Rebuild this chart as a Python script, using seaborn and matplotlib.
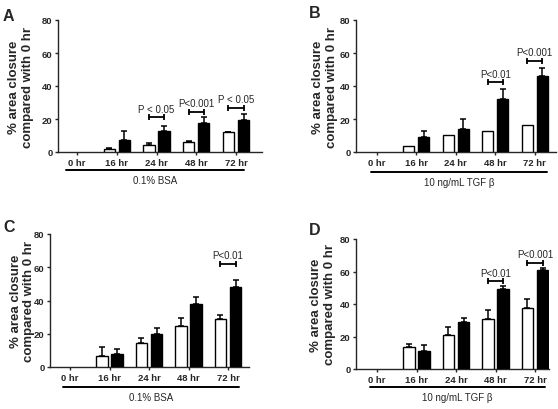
import matplotlib
matplotlib.use("Agg")
import matplotlib.pyplot as plt
import numpy as np
import pandas as pd
import seaborn as sns

sns.set_style("ticks")
plt.rcParams['font.family'] = ['Liberation Sans', 'DejaVu Sans']

########### DATA ###########
times = ['0 hr', '16 hr', '24 hr', '48 hr', '72 hr']
groups = ['open', 'filled']

# panel A - 0.1% BSA
a_open = [0, 1.8, 4.2, 5.9, 11.9]
a_open_err = [0, 0.4, 1.1, 0.6, 0.4]
a_filled = [0, 7.5, 12.7, 17.4, 19.4]
a_filled_err = [0, 5.4, 3.3, 3.6, 3.6]
a_sig = [(2, 21.0, 'P < 0.05'), (3, 24.4, 'P<0.001'), (4, 26.7, 'P < 0.05')]

# panel B - TGF beta
b_open = [0, 3.8, 10.1, 12.9, 16.2]
b_open_err = [0, 0, 0, 0, 0]
b_filled = [0, 9.1, 13.9, 32.1, 46.3]
b_filled_err = [0, 3.8, 6.1, 6.1, 4.8]
b_sig = [(3, 42.2, 'P<0.01'), (4, 55.3, 'P<0.001')]

# panel C - 0.1% BSA
c_open = [0, 6.8, 14.2, 24.9, 29.1]
c_open_err = [0, 5.4, 3.2, 4.4, 2.2]
c_filled = [0, 7.6, 19.6, 38.1, 48.1]
c_filled_err = [0, 3.2, 3.7, 3.8, 4.4]
c_sig = [(4, 62.0, 'P<0.01')]

# panel D - TGF beta
d_open = [0, 13.7, 21.1, 30.8, 37.3]
d_open_err = [0, 1.9, 4.7, 5.7, 5.8]
d_filled = [0, 11.3, 29.1, 49.0, 61.1]
d_filled_err = [0, 3.5, 2.1, 1.9, 1.1]
d_sig = [(3, 54.0, 'P<0.01'), (4, 65.2, 'P<0.001')]

bsa_label = '0.1% BSA'
tgf_label = '10 ng/mL TGF β'
ylab = '% area closure\ncompared with 0 hr'

########### LAYOUT (pixels) ###########
W, H = 558, 410
fig = plt.figure(figsize=(W / 100, H / 100), dpi=100)

OFF = 0.19   # bar offset from group centre
BW = 0.28    # bar width


def err_bars(ax, xpos, means, errs):
    xpos, means, errs = np.asarray(xpos), np.asarray(means), np.asarray(errs)
    m = errs > 0
    if m.any():
        ax.errorbar(xpos[m], means[m], yerr=[np.zeros(m.sum()), errs[m]], fmt='none',
                    ecolor='black', elinewidth=1.1, capsize=2.2, capthick=1.1, zorder=2)


def draw_panel(letter, box, tick0, step, vals, sig, glabel, gline, letter_xy, ylab_x):
    left, top, right, bottom = box
    ax = fig.add_axes([left / W, 1 - bottom / H, (right - left) / W, (bottom - top) / H])
    op, op_e, fi, fi_e = vals
    df = pd.DataFrame({'time': times * 2,
                       'group': [groups[0]] * 5 + [groups[1]] * 5,
                       'value': op + fi})
    sns.barplot(data=df, x='time', y='value', hue='group', order=times, hue_order=groups,
                palette=['white', 'black'], edgecolor='black', linewidth=1.0,
                width=2 * OFF * 2, gap=1 - BW / (2 * OFF), errorbar=None, legend=False,
                ax=ax, zorder=3)
    # empty bars at 0 hr: no outline
    for p in ax.patches:
        if p.get_height() == 0:
            p.set_linewidth(0)
    x = np.arange(len(times))
    err_bars(ax, x - OFF, op, op_e)
    err_bars(ax, x + OFF, fi, fi_e)

    for i, y, txt in sig:
        ax.plot([i - OFF, i + OFF], [y, y], color='black', lw=1.3, marker='|',
                markersize=4, mew=1.3, zorder=4)
        ax.text(i, y + 2.2, txt, ha='center', va='bottom', fontsize=7)

    ax.set_xlim((left - tick0) / step, (right - tick0) / step)
    ax.set_ylim(0, 80)
    ax.set_yticks([0, 20, 40, 60, 80])
    ax.set_xlabel('')
    ax.set_ylabel('')
    sns.despine(ax=ax)
    for s in ['left', 'bottom']:
        ax.spines[s].set_linewidth(1.0)
    ax.tick_params(axis='both', length=2.5, width=1.0, pad=1.5, labelsize=6.8)
    for lab in ax.get_xticklabels() + ax.get_yticklabels():
        lab.set_fontweight('bold')

    # group underline + label
    gy, gx0, gx1, ty = gline
    h = bottom - top
    ax.plot([(gx0 - tick0) / step, (gx1 - tick0) / step], [(bottom - gy) / h] * 2,
            transform=ax.get_xaxis_transform(), color='black', lw=1.4, clip_on=False)
    ax.text(((gx0 + gx1) / 2 - tick0) / step, (bottom - ty) / h, glabel,
            transform=ax.get_xaxis_transform(), ha='center', va='center', fontsize=7)

    fig.text(ylab_x / W, 1 - (top + bottom) / 2 / H, ylab, rotation=90, ha='center',
             va='center', fontsize=9.5, fontweight='bold', linespacing=1.15)
    fig.text(letter_xy[0] / W, 1 - letter_xy[1] / H, letter, fontsize=11.5,
             fontweight='bold', ha='left', va='baseline')
    return ax


draw_panel('A', (58, 21, 262, 153), 77, 39.75,
           (a_open, a_open_err, a_filled, a_filled_err), a_sig, bsa_label,
           (171, 66, 244, 181.5), (3, 21), 21)
draw_panel('B', (356, 21, 556, 153), 377, 39.4,
           (b_open, b_open_err, b_filled, b_filled_err), b_sig, tgf_label,
           (173, 371, 547, 183), (309, 18), 325)
draw_panel('C', (50, 235, 249, 368), 70, 39.5,
           (c_open, c_open_err, c_filled, c_filled_err), c_sig, bsa_label,
           (388, 63, 239, 398), (3, 232), 22.5)
draw_panel('D', (356, 240, 549, 370), 377, 39.5,
           (d_open, d_open_err, d_filled, d_filled_err), d_sig, tgf_label,
           (388, 370, 545, 398), (309, 235), 323)

plt.savefig('out.png', dpi=100)
